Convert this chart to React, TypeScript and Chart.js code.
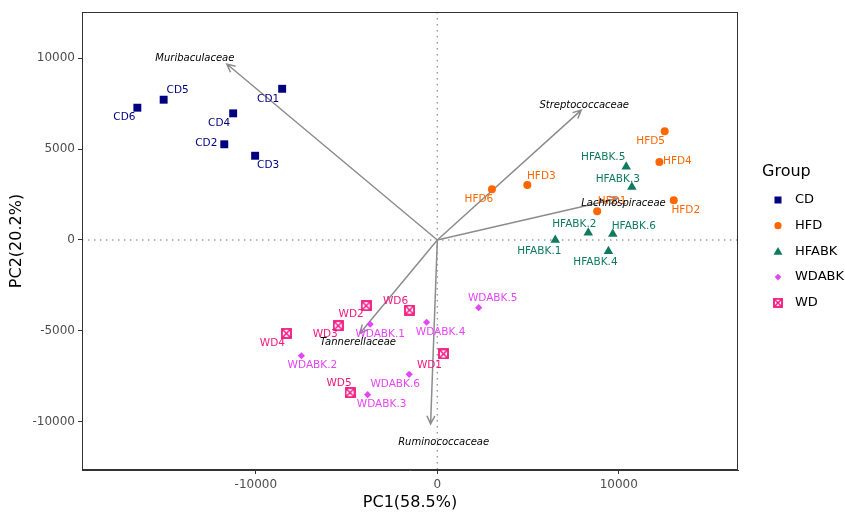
import React, { useEffect, useRef } from 'react';
import { Chart, registerables } from 'chart.js';
Chart.register(...registerables);

// ---- data ----
const CD_NAMES = ['CD1', 'CD2', 'CD3', 'CD4', 'CD5', 'CD6'];
const CD_PC1 = [-8550, -11740, -10040, -11250, -15080, -16530];
const CD_PC2 = [8310, 5260, 4630, 6960, 7710, 7270];

const HFD_NAMES = ['HFD1', 'HFD2', 'HFD3', 'HFD4', 'HFD5', 'HFD6'];
const HFD_PC1 = [8810, 13030, 4960, 12240, 12530, 3010];
const HFD_PC2 = [1580, 2180, 3020, 4290, 5970, 2790];

const HFABK_NAMES = ['HFABK.1', 'HFABK.2', 'HFABK.3', 'HFABK.4', 'HFABK.5', 'HFABK.6'];
const HFABK_PC1 = [6500, 8320, 10720, 9430, 10410, 9670];
const HFABK_PC2 = [0, 400, 2910, -620, 4030, 330];

const WDABK_NAMES = ['WDABK.1', 'WDABK.2', 'WDABK.3', 'WDABK.4', 'WDABK.5', 'WDABK.6'];
const WDABK_PC1 = [-3700, -7490, -3840, -590, 2280, -1550];
const WDABK_PC2 = [-4630, -6360, -8500, -4520, -3720, -7380];

const WD_NAMES = ['WD1', 'WD2', 'WD3', 'WD4', 'WD5', 'WD6'];
const WD_PC1 = [340, -3920, -5460, -8320, -4810, -1530];
const WD_PC2 = [-6260, -3610, -4710, -5130, -8390, -3850];

// loading arrows (tip coordinates in PC units)
const LOAD_NAMES = ['Muribaculaceae', 'Streptococcaceae', 'Lachnospiraceae', 'Tannerellaceae', 'Ruminococcaceae'];
const LOAD_PC1 = [-11600, 7930, 9930, -4260, -370];
const LOAD_PC2 = [9670, 7140, 2280, -5130, -10110];

const X_TICKS = [-10000, 0, 10000];
const Y_TICKS = [-10000, -5000, 0, 5000, 10000];

// ---- label placement (pixels, relative to point) ----
const CD_LBL = [[-14, 10], [-18, -1], [13, 10], [-14, 10], [14, -9], [-13, 10]];
const HFD_LBL = [[15, -10], [12, 10], [14, -9], [18, -1], [-14, 10], [-13, 10]];
const HFABK_LBL = [[-16, 11], [-14, -8], [-14, -8], [-13, 11], [-23, -9], [21, -8]];
const WDABK_LBL = [[10, 10], [11, 10], [14, 10], [14, 10], [14, -9], [-14, 10]];
const WD_LBL = [[-14, 11], [-15, 9], [-13, 9], [-14, 10], [-11, -9], [-14, -9]];
const LOAD_LBL = [[-32, -6], [3, -5], [6, 5], [-2, 9], [13, 18]];

const COLORS = {
  CD: '#000080',
  HFD: '#ff6600',
  HFABK: '#0e7a5f',
  WDABK: '#e545f5',
  WD: '#f2167f',
};

function makeWDImage(size: number, color: string) {
  const c = document.createElement('canvas');
  c.width = size;
  c.height = size;
  const g = c.getContext('2d')!;
  g.strokeStyle = color;
  g.lineWidth = 1.8;
  const p = 1;
  g.strokeRect(p, p, size - 2 * p, size - 2 * p);
  g.lineWidth = 1.5;
  g.beginPath();
  g.moveTo(p + 1, p + 1);
  g.lineTo(size - p - 1, size - p - 1);
  g.moveTo(size - p - 1, p + 1);
  g.lineTo(p + 1, size - p - 1);
  g.stroke();
  return c;
}

export default function App() {
  const ref = useRef<HTMLCanvasElement>(null);

  useEffect(() => {
    document.body.style.margin = '0';
    const wdImg = makeWDImage(11, COLORS.WD);
    const wdLegendImg = makeWDImage(10, COLORS.WD);

    const groups = [
      { label: 'CD', names: CD_NAMES, x: CD_PC1, y: CD_PC2, lbl: CD_LBL, color: COLORS.CD, style: 'rect' as any, radius: 5.6 },
      { label: 'HFD', names: HFD_NAMES, x: HFD_PC1, y: HFD_PC2, lbl: HFD_LBL, color: COLORS.HFD, style: 'circle' as any, radius: 4 },
      { label: 'HFABK', names: HFABK_NAMES, x: HFABK_PC1, y: HFABK_PC2, lbl: HFABK_LBL, color: COLORS.HFABK, style: 'triangle' as any, radius: 5.5 },
      { label: 'WDABK', names: WDABK_NAMES, x: WDABK_PC1, y: WDABK_PC2, lbl: WDABK_LBL, color: COLORS.WDABK, style: 'rectRot' as any, radius: 3.6 },
      { label: 'WD', names: WD_NAMES, x: WD_PC1, y: WD_PC2, lbl: WD_LBL, color: COLORS.WD, style: wdImg as any, radius: 5.5 },
    ];

    const FONT = 'DejaVu Sans';

    const overlay = {
      id: 'overlay',
      beforeDatasetsDraw(chart: any) {
        const { ctx, chartArea: a, scales } = chart;
        const xs = scales.x, ys = scales.y;
        const x0 = xs.getPixelForValue(0), y0 = ys.getPixelForValue(0);
        ctx.save();
        ctx.strokeStyle = '#9a9a9a';
        ctx.lineWidth = 1.4;
        ctx.setLineDash([1.4, 4.6]);
        ctx.beginPath();
        ctx.moveTo(x0, a.top);
        ctx.lineTo(x0, a.bottom);
        ctx.moveTo(a.left, y0);
        ctx.lineTo(a.right, y0);
        ctx.stroke();
        ctx.setLineDash([]);
        ctx.strokeStyle = '#8c8c8c';
        ctx.lineWidth = 1.5;
        for (let i = 0; i < LOAD_NAMES.length; i++) {
          const x1 = xs.getPixelForValue(LOAD_PC1[i]);
          const y1 = ys.getPixelForValue(LOAD_PC2[i]);
          ctx.beginPath();
          ctx.moveTo(x0, y0);
          ctx.lineTo(x1, y1);
          const ang = Math.atan2(y1 - y0, x1 - x0);
          const L = 9, w = Math.PI / 7;
          ctx.moveTo(x1 - L * Math.cos(ang - w), y1 - L * Math.sin(ang - w));
          ctx.lineTo(x1, y1);
          ctx.lineTo(x1 - L * Math.cos(ang + w), y1 - L * Math.sin(ang + w));
          ctx.stroke();
        }
        ctx.restore();
      },
      afterDatasetsDraw(chart: any) {
        const { ctx, chartArea: a, scales } = chart;
        const xs = scales.x, ys = scales.y;
        ctx.save();
        ctx.textAlign = 'center';
        ctx.textBaseline = 'middle';
        ctx.font = `10.5px "${FONT}"`;
        for (const g of groups) {
          ctx.fillStyle = g.color;
          for (let i = 0; i < g.names.length; i++) {
            const px = xs.getPixelForValue(g.x[i]) + g.lbl[i][0];
            const py = ys.getPixelForValue(g.y[i]) + g.lbl[i][1];
            ctx.fillText(g.names[i], px, py);
          }
        }
        ctx.font = `italic 10px "${FONT}"`;
        ctx.fillStyle = '#000';
        for (let i = 0; i < LOAD_NAMES.length; i++) {
          const px = xs.getPixelForValue(LOAD_PC1[i]) + LOAD_LBL[i][0];
          const py = ys.getPixelForValue(LOAD_PC2[i]) + LOAD_LBL[i][1];
          ctx.fillText(LOAD_NAMES[i], px, py);
        }
        ctx.strokeStyle = '#333';
        ctx.lineWidth = 1;
        ctx.strokeRect(a.left + 0.5, a.top + 0.5, a.right - a.left - 1, a.bottom - a.top - 1);
        ctx.restore();
      },
      afterDraw(chart: any) {
        const { ctx } = chart;
        ctx.save();
        ctx.fillStyle = '#000';
        ctx.textAlign = 'left';
        ctx.textBaseline = 'middle';
        ctx.font = `16px "${FONT}"`;
        ctx.fillText('Group', 762, 172);
        ctx.font = `13px "${FONT}"`;
        groups.forEach((g, i) => {
          const cy = 200 + i * 25.7;
          const cx = 778;
          ctx.fillStyle = g.color;
          ctx.beginPath();
          if (g.label === 'CD') {
            ctx.rect(cx - 3.5, cy - 3.5, 7, 7);
            ctx.fill();
          } else if (g.label === 'HFD') {
            ctx.arc(cx, cy, 3.6, 0, Math.PI * 2);
            ctx.fill();
          } else if (g.label === 'HFABK') {
            ctx.moveTo(cx, cy - 4.5);
            ctx.lineTo(cx + 4.5, cy + 3.3);
            ctx.lineTo(cx - 4.5, cy + 3.3);
            ctx.closePath();
            ctx.fill();
          } else if (g.label === 'WDABK') {
            ctx.moveTo(cx, cy - 3.3);
            ctx.lineTo(cx + 3.3, cy);
            ctx.lineTo(cx, cy + 3.3);
            ctx.lineTo(cx - 3.3, cy);
            ctx.closePath();
            ctx.fill();
          } else {
            ctx.drawImage(wdLegendImg, cx - 5, cy - 5);
          }
          ctx.fillStyle = '#000';
          ctx.fillText(g.label, 795, cy);
        });
        ctx.restore();
      },
    };

    const chart = new Chart(ref.current!, {
      type: 'scatter',
      data: {
        datasets: groups.map((g) => ({
          label: g.label,
          data: g.x.map((v, i) => ({ x: v, y: g.y[i] })),
          pointStyle: g.style,
          pointRadius: g.radius,
          pointHoverRadius: g.radius,
          backgroundColor: g.color,
          borderColor: g.color,
          borderWidth: 0,
        })),
      },
      options: {
        responsive: false,
        animation: false,
        events: [],
        layout: { padding: { top: 12, right: 107, left: 0, bottom: 0 } },
        plugins: { legend: { display: false }, tooltip: { enabled: false } },
        scales: {
          x: {
            type: 'linear',
            min: -19580,
            max: 16570,
            afterBuildTicks: (s: any) => { s.ticks = X_TICKS.map((v) => ({ value: v })); },
            afterFit: (s: any) => { s.height = 46; },
            ticks: { color: '#4d4d4d', font: { family: FONT, size: 12 }, padding: 4, includeBounds: false, callback: (v: any) => String(v) },
            grid: { drawOnChartArea: false, drawTicks: true, tickLength: 4, color: '#333' },
            border: { display: true, color: '#333' },
            title: { display: true, text: 'PC1(58.5%)', color: '#000', font: { family: FONT, size: 16 }, padding: { top: 0, bottom: 4 } },
          },
          y: {
            type: 'linear',
            min: -12640,
            max: 12530,
            afterBuildTicks: (s: any) => { s.ticks = Y_TICKS.map((v) => ({ value: v })); },
            afterFit: (s: any) => { s.width = 82; },
            ticks: { color: '#4d4d4d', font: { family: FONT, size: 12 }, padding: 3, includeBounds: false, callback: (v: any) => String(v) },
            grid: { drawOnChartArea: false, drawTicks: true, tickLength: 4, color: '#333' },
            border: { display: true, color: '#333' },
            title: { display: true, text: 'PC2(20.2%)', color: '#000', font: { family: FONT, size: 16 }, padding: { top: 7, bottom: 0 } },
          },
        },
      },
      plugins: [overlay],
    } as any);
    return () => chart.destroy();
  }, []);

  return (
    <div style={{ width: 845, height: 516 }}>
      <canvas ref={ref} width={845} height={516} style={{ display: 'block' }} />
    </div>
  );
}
